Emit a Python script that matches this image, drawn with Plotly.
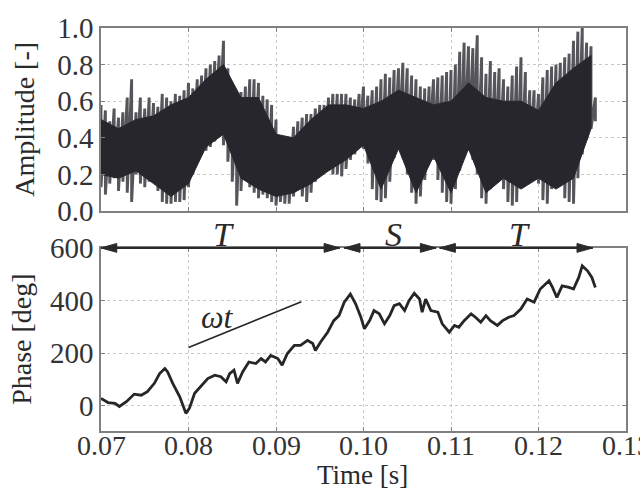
import numpy as np
import plotly.graph_objects as go
from plotly.subplots import make_subplots

# ---------------- data ----------------
# amplitude signal: outer peak / trough values every 0.5 ms
amp_t0 = 0.070
amp_dt = 0.0005
amp_hi = [0.58, 0.55, 0.49, 0.56, 0.51, 0.54, 0.62, 0.72, 0.54, 0.62,
          0.56, 0.62, 0.59, 0.57, 0.64, 0.62, 0.60, 0.64, 0.63, 0.66,
          0.70, 0.67, 0.72, 0.74, 0.78, 0.80, 0.82, 0.85, 0.93, 0.78,
          0.67, 0.62, 0.65, 0.68, 0.72, 0.72, 0.70, 0.63, 0.61, 0.58,
          0.50, 0.36, 0.33, 0.40, 0.46, 0.49, 0.51, 0.53, 0.53, 0.56,
          0.58, 0.58, 0.62, 0.64, 0.64, 0.64, 0.64, 0.62, 0.61, 0.64,
          0.68, 0.63, 0.66, 0.68, 0.72, 0.75, 0.73, 0.77, 0.78, 0.81,
          0.78, 0.74, 0.72, 0.68, 0.67, 0.68, 0.72, 0.73, 0.74, 0.76,
          0.77, 0.80, 0.87, 0.92, 0.90, 0.89, 0.96, 0.84, 0.75, 0.82,
          0.76, 0.78, 0.72, 0.68, 0.74, 0.79, 0.84, 0.76, 0.66, 0.66,
          0.64, 0.73, 0.77, 0.79, 0.80, 0.81, 0.84, 0.86, 0.93, 0.98,
          1.00, 0.92, 0.90, 0.62]
amp_lo = [0.13, 0.09, 0.15, 0.18, 0.11, 0.16, 0.10, 0.05, 0.20, 0.15,
          0.13, 0.16, 0.18, 0.11, 0.05, 0.04, 0.04, 0.05, 0.05, 0.06,
          0.13, 0.20, 0.27, 0.31, 0.33, 0.35, 0.38, 0.42, 0.36, 0.27,
          0.16, 0.03, 0.11, 0.18, 0.13, 0.10, 0.07, 0.09, 0.07, 0.05,
          0.03, 0.05, 0.04, 0.04, 0.08, 0.14, 0.08, 0.05, 0.10, 0.16,
          0.20, 0.21, 0.22, 0.20, 0.20, 0.19, 0.23, 0.28, 0.31, 0.36,
          0.34, 0.26, 0.12, 0.06, 0.05, 0.07, 0.16, 0.29, 0.34, 0.29,
          0.20, 0.10, 0.04, 0.08, 0.17, 0.34, 0.28, 0.17, 0.10, 0.05,
          0.04, 0.12, 0.22, 0.31, 0.33, 0.28, 0.20, 0.07, 0.04, 0.12,
          0.22, 0.20, 0.12, 0.05, 0.03, 0.05, 0.13, 0.24, 0.29, 0.26,
          0.15, 0.06, 0.04, 0.12, 0.20, 0.14, 0.07, 0.05, 0.04, 0.18,
          0.31, 0.39, 0.45, 0.49]

# dense core of the amplitude band, every 2 ms
core_t0 = 0.070
core_dt = 0.002
core_hi = [0.50, 0.45, 0.50, 0.52, 0.58, 0.62, 0.72, 0.80, 0.62, 0.62,
           0.42, 0.40, 0.50, 0.58, 0.58, 0.56, 0.60, 0.66, 0.62, 0.58,
           0.60, 0.70, 0.62, 0.60, 0.60, 0.55, 0.70, 0.78, 0.85]
core_lo = [0.20, 0.18, 0.22, 0.15, 0.08, 0.15, 0.35, 0.42, 0.18, 0.12,
           0.08, 0.10, 0.15, 0.22, 0.28, 0.36, 0.12, 0.34, 0.10, 0.30,
           0.10, 0.34, 0.10, 0.18, 0.12, 0.18, 0.12, 0.18, 0.45]

phase_t = [0.0700, 0.0708, 0.0716, 0.0721, 0.0729, 0.0738, 0.0746, 0.0753,
           0.0761, 0.0767, 0.0773, 0.0776, 0.0782, 0.0790, 0.0797, 0.0801,
           0.0807, 0.0814, 0.0822, 0.0830, 0.0837, 0.0843, 0.0847, 0.0852,
           0.0856, 0.0862, 0.0869, 0.0877, 0.0883, 0.0888, 0.0894, 0.0902,
           0.0907, 0.0913, 0.0921, 0.0928, 0.0936, 0.0942, 0.0945, 0.0951,
           0.0959, 0.0966, 0.0972, 0.0978, 0.0985, 0.0991, 0.0997, 0.1001,
           0.1007, 0.1012, 0.1018, 0.1024, 0.1030, 0.1035, 0.1041, 0.1047,
           0.1052, 0.1058, 0.1064, 0.1067, 0.1071, 0.1077, 0.1085, 0.1090,
           0.1098, 0.1104, 0.1109, 0.1115, 0.1123, 0.1128, 0.1134, 0.1140,
           0.1145, 0.1153, 0.1159, 0.1166, 0.1172, 0.1180, 0.1187, 0.1195,
           0.1202, 0.1212, 0.1216, 0.1221, 0.1227, 0.1235, 0.1240, 0.1246,
           0.1250, 0.1256, 0.1261, 0.1265]
phase_deg = [29, 13, 10, -2, 16, 45, 41, 54,
             86, 123, 142, 130, 86, 35, -28, -9,
             48, 73, 104, 117, 111, 92, 123, 136,
             86, 130, 167, 161, 180, 167, 192, 180,
             155, 199, 230, 230, 249, 237, 211, 243,
             280, 324, 343, 394, 425, 388, 337, 293,
             324, 362, 350, 312, 343, 381, 388, 362,
             400, 428, 406, 356, 406, 362, 356, 312,
             280, 306, 299, 324, 350, 337, 318, 343,
             324, 306, 324, 337, 343, 369, 406, 394,
             444, 475, 450, 412, 456, 450, 444, 488,
             532, 513, 488, 450]

# reference slope line (omega t)
wt_t = [0.0800, 0.0929]
wt_deg = [222, 396]

# regimes
regime_labels = ["T", "S", "T"]
regime_start = [0.0700, 0.0978, 0.1087]
regime_end = [0.0973, 0.1083, 0.1262]

x_ticks = [0.07, 0.08, 0.09, 0.10, 0.11, 0.12, 0.13]
amp_ticks = [0.0, 0.2, 0.4, 0.6, 0.8, 1.0]
phase_ticks = [0, 200, 400, 600]

# ---------------- figure ----------------
FONT = "Liberation Serif"
fig = make_subplots(rows=2, cols=1, shared_xaxes=True, vertical_spacing=0.0914)

amp_t = [amp_t0 + i * amp_dt for i in range(len(amp_hi))]
zx, zy = [], []
for t, h, l in zip(amp_t, amp_hi, amp_lo):
    zx += [t, t]
    zy += [h, l]
fig.add_trace(go.Scatter(x=zx, y=zy, mode="lines",
                         line=dict(color="#55555b", width=2.9),
                         hoverinfo="skip", showlegend=False), row=1, col=1)

core_t = [core_t0 + i * core_dt for i in range(len(core_hi))]
fig.add_trace(go.Scatter(x=core_t + core_t[::-1], y=core_hi + core_lo[::-1],
                         mode="lines", fill="toself", fillcolor="#26262c",
                         line=dict(color="#26262c", width=1),
                         hoverinfo="skip", showlegend=False), row=1, col=1)

fig.add_trace(go.Scatter(x=phase_t, y=phase_deg, mode="lines",
                         line=dict(color="#262626", width=2.8),
                         showlegend=False), row=2, col=1)
fig.add_trace(go.Scatter(x=wt_t, y=wt_deg, mode="lines",
                         line=dict(color="#262626", width=1.6),
                         showlegend=False), row=2, col=1)

axis_common = dict(showline=True, linecolor="#808080", linewidth=1.6, mirror="ticks",
                   ticks="inside", ticklen=4, tickcolor="#808080",
                   showgrid=True, gridcolor="#c8c8c8", griddash="dot", gridwidth=1,
                   zeroline=False,
                   tickfont=dict(family=FONT, size=29, color="#333333"))

fig.update_xaxes(range=[0.07, 0.13], tickvals=x_ticks, showticklabels=False, **axis_common)
fig.update_yaxes(range=[0, 1.0], tickvals=amp_ticks, tickformat=".1f",
                 row=1, col=1, **axis_common)
fig.update_yaxes(range=[-95, 600], tickvals=phase_ticks,
                 row=2, col=1, **axis_common)

# regime arrows on the top edge of the lower plot
y_top = fig.layout.yaxis2.domain[1]
head_len = 0.0018
head_h = 0.011
shapes = []
for a, b in zip(regime_start, regime_end):
    shapes.append(dict(type="line", xref="x2", yref="paper", x0=a, x1=b, y0=y_top, y1=y_top,
                       line=dict(color="#2a2a2a", width=2)))
    shapes.append(dict(type="path", xref="x2", yref="paper", fillcolor="#2a2a2a",
                       line=dict(color="#2a2a2a", width=1),
                       path=f"M{a},{y_top} L{a + head_len},{y_top + head_h} L{a + head_len},{y_top - head_h} Z"))
    shapes.append(dict(type="path", xref="x2", yref="paper", fillcolor="#2a2a2a",
                       line=dict(color="#2a2a2a", width=1),
                       path=f"M{b},{y_top} L{b - head_len},{y_top + head_h} L{b - head_len},{y_top - head_h} Z"))
fig.update_layout(shapes=shapes)

ann = []
# x tick labels of the lower axis (placed at the axis values)
for v in x_ticks:
    ann.append(dict(text=f"{v:.2f}", x=v, xref="x2", y=-0.037, yref="paper", showarrow=False,
                    font=dict(family=FONT, size=28, color="#333333"),
                    xanchor="center", yanchor="middle"))
for lab, a, b in zip(regime_labels, regime_start, regime_end):
    ann.append(dict(text=f"<i>{lab}</i>", x=(a + b) / 2 + 0.0004, xref="x2", y=y_top + 0.034, yref="paper",
                    showarrow=False, font=dict(family=FONT, size=34, color="#2a2a2a"),
                    xanchor="center", yanchor="middle"))
ann.append(dict(text="<i>ωt</i>", x=0.0833, xref="x2", y=336, yref="y2", showarrow=False,
                font=dict(family=FONT, size=32, color="#2a2a2a"), xanchor="center", yanchor="middle"))
ann.append(dict(text="Amplitude [-]", x=-0.1464, xref="paper", y=0.7728, yref="paper", textangle=-90,
                showarrow=False, font=dict(family=FONT, size=28, color="#2a2a2a"),
                xanchor="center", yanchor="middle"))
ann.append(dict(text="Phase [deg]", x=-0.152, xref="paper", y=0.2267, yref="paper", textangle=-90,
                showarrow=False, font=dict(family=FONT, size=28, color="#2a2a2a"),
                xanchor="center", yanchor="middle"))
ann.append(dict(text="Time [s]", x=0.498, xref="paper", y=-0.109, yref="paper",
                showarrow=False, font=dict(family=FONT, size=27, color="#2a2a2a"),
                xanchor="center", yanchor="middle"))
fig.update_layout(annotations=ann)

fig.update_layout(width=640, height=489, margin=dict(l=101, r=13, t=26, b=58),
                  paper_bgcolor="white", plot_bgcolor="white", showlegend=False)

fig.write_html("out.html")
